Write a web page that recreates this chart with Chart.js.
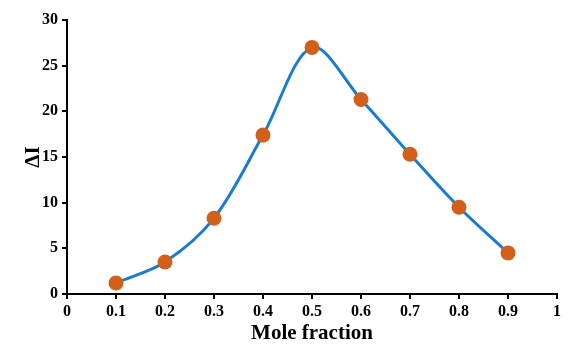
<!DOCTYPE html>
<html>
<head>
<meta charset="utf-8">
<script src="https://cdn.jsdelivr.net/npm/chart.js@4/dist/chart.umd.min.js"></script>
<style>
  html, body { margin: 0; padding: 0; background: #fff; }
  #wrap { width: 587px; height: 350px; }
</style>
</head>
<body>
<div id="wrap"><canvas id="chart" width="587" height="350"></canvas></div>
<script>
// data
let moleFraction = [0.1, 0.2, 0.3, 0.4, 0.5, 0.6, 0.7, 0.8, 0.9];
let deltaI = [1.2, 3.5, 8.3, 17.4, 27.0, 21.3, 15.3, 9.5, 4.5];
let xTickLabels = ['0', '0.1', '0.2', '0.3', '0.4', '0.5', '0.6', '0.7', '0.8', '0.9', '1'];
let yTickLabels = ['0', '5', '10', '15', '20', '25', '30'];

let points = moleFraction.map((x, i) => ({ x: x, y: deltaI[i] }));

let tickFont = { family: 'Liberation Serif', size: 16, weight: 'bold' };
let titleFont = { family: 'Liberation Serif', size: 21, weight: 'bold' };

new Chart(document.getElementById('chart').getContext('2d'), {
    type: 'scatter',
    data: {
        datasets: [{
            data: points,
            showLine: true,
            tension: 0.33,
            borderColor: '#1b7bd0',
            borderWidth: 3,
            pointRadius: 7.5,
            pointHoverRadius: 7.5,
            pointBackgroundColor: '#d2601a',
            pointBorderColor: '#d2601a',
            pointBorderWidth: 0
        }]
    },
    options: {
        responsive: false,
        animation: false,
        layout: { padding: { top: 20, right: 30, left: 17, bottom: 0 } },
        plugins: { legend: { display: false }, tooltip: { enabled: false } },
        scales: {
            x: {
                type: 'linear',
                min: 0,
                max: 1,
                afterFit: function (axis) { axis.height = 56; },
                ticks: {
                    stepSize: 0.1,
                    color: '#000',
                    font: tickFont,
                    padding: 3,
                    maxRotation: 0,
                    callback: (v, i) => xTickLabels[i]
                },
                grid: { drawOnChartArea: false, drawTicks: true, tickLength: 5, color: '#000', lineWidth: 2 },
                border: { display: true, color: '#000', width: 2 },
                title: { display: true, text: 'Mole fraction', color: '#000', font: titleFont, padding: { top: 0 } }
            },
            y: {
                min: 0,
                max: 30,
                afterFit: function (axis) { axis.width = 50; },
                ticks: {
                    stepSize: 5,
                    color: '#000',
                    font: tickFont,
                    padding: 4,
                    callback: (v, i) => yTickLabels[i]
                },
                grid: { drawOnChartArea: false, drawTicks: true, tickLength: 5, color: '#000', lineWidth: 2 },
                border: { display: true, color: '#000', width: 2 },
                title: { display: true, text: 'ΔI', color: '#000', font: titleFont, padding: { bottom: 0 } }
            }
        }
    }
});
</script>
</body>
</html>
